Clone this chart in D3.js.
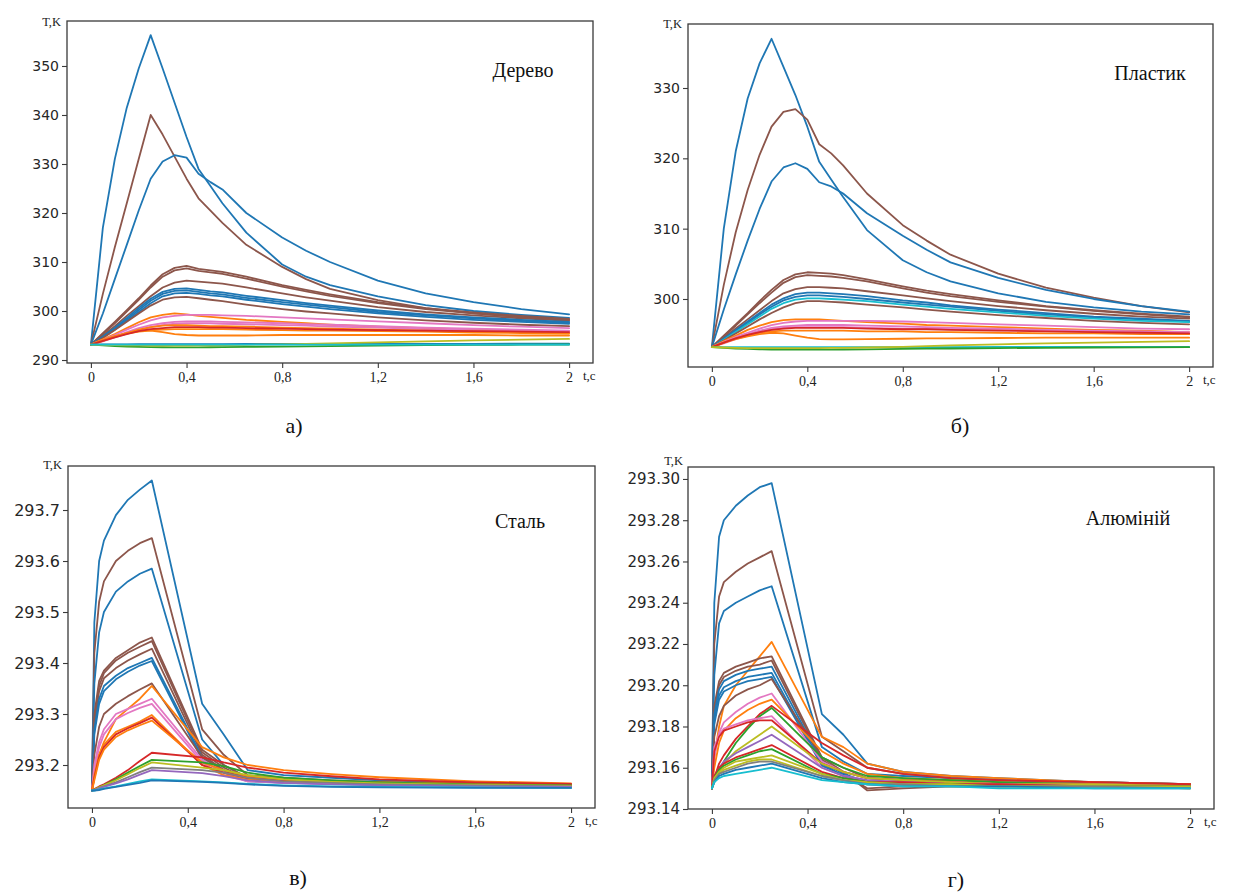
<!DOCTYPE html>
<html>
<head>
<meta charset="utf-8">
<script src="https://cdn.jsdelivr.net/npm/d3@7"></script>
<style>
html,body{margin:0;padding:0;background:#fff;}
svg{display:block;}
</style>
</head>
<body>
<svg id="chart" width="1234" height="893"></svg>
<script>
// ---------- DATA ----------
const xTicks = [0, 0.4, 0.8, 1.2, 1.6, 2];
const xTickLabels = ["0", "0,4", "0,8", "1,2", "1,6", "2"];

// time grids (s)
const tWP = [0, 0.05, 0.1, 0.15, 0.2, 0.25, 0.3, 0.35, 0.4, 0.45, 0.5, 0.55, 0.65, 0.8, 0.9, 1.0, 1.2, 1.4, 1.6, 1.8, 2.0];
const tSA = [0, 0.01, 0.03, 0.05, 0.1, 0.15, 0.2, 0.25, 0.46, 0.55, 0.65, 0.8, 1.0, 1.2, 1.6, 2.0];

// а) Дерево
const woodYTicks = [290, 300, 310, 320, 330, 340, 350];
const woodYLabels = ["290", "300", "310", "320", "330", "340", "350"];
const woodColors = ["b","br","b","br","br","br","b","b","b","br","o","pk","pk","pk","o","o","o","r","b","g","ol","c"];
const woodSeries = [
 [293.15,317,331,341.5,349.5,356.3,349.5,342.5,335.5,329,325.5,322,316,309.5,307,305.3,303,301.2,300,299.2,298.6],
 [293.15,303.5,313,322,331,340,336,331.5,327,323,320.5,318,313.5,309,306.5,304.5,302.2,300.6,299.5,298.7,298.2],
 [293.15,299.5,306.5,313.5,320.5,327,330.5,331.8,331.3,328,326.3,324.8,320,315,312.3,310,306.2,303.6,301.8,300.4,299.3],
 [293.15,295.5,297.8,300.2,302.6,305.2,307.5,308.8,309.2,308.6,308.3,308,307,305.3,304.3,303.4,301.8,300.6,299.7,299,298.4],
 [293.15,295.3,297.5,299.9,302.3,304.8,307,308.3,308.7,308.2,307.9,307.6,306.6,305,304,303.1,301.6,300.4,299.5,298.8,298.2],
 [293.15,295,296.9,299,301,303,304.8,305.8,306.2,306,305.8,305.6,304.8,303.6,302.8,302.1,300.8,299.8,299.1,298.5,298],
 [293.15,294.8,296.6,298.6,300.6,302.5,303.9,304.5,304.6,304.3,304,303.8,303.1,302.2,301.6,301.1,300.1,299.3,298.7,298.2,297.8],
 [293.15,294.7,296.4,298.3,300.2,302.1,303.5,304.1,304.2,303.9,303.6,303.4,302.7,301.8,301.3,300.8,299.8,299.1,298.5,298,297.6],
 [293.15,294.6,296.2,298,299.8,301.6,303,303.6,303.7,303.5,303.2,303,302.3,301.4,300.9,300.4,299.5,298.8,298.2,297.8,297.4],
 [293.15,294.5,296.1,297.8,299.5,301.1,302.3,302.8,302.9,302.6,302.3,302,301.3,300.4,299.9,299.5,298.7,298.1,297.6,297.2,296.9],
 [293.15,294.2,295.3,296.5,297.7,298.7,299.2,299.5,299.3,299,298.8,298.6,298.2,297.8,297.5,297.2,296.8,296.5,296.2,296,295.8],
 [293.15,294.1,295.1,296.2,297.2,298.1,298.7,299,299.2,299.2,299.2,299.1,299,298.7,298.5,298.3,297.9,297.5,297.1,296.8,296.5],
 [293.15,293.9,294.8,295.7,296.5,297.1,297.5,297.8,297.9,297.9,297.9,297.8,297.7,297.5,297.3,297.2,296.9,296.6,296.4,296.2,296],
 [293.15,293.8,294.6,295.4,296.1,296.7,297.1,297.4,297.5,297.5,297.5,297.4,297.3,297.1,297,296.8,296.6,296.3,296.1,295.9,295.8],
 [293.15,293.9,294.7,295.5,296.2,296.7,297,297.1,297.1,297,296.9,296.9,296.8,296.6,296.5,296.4,296.2,296,295.8,295.7,295.5],
 [293.15,294.1,294.9,295.5,295.9,296.1,296.2,296.3,296.3,296.3,296.3,296.3,296.2,296.1,296,296,295.9,295.8,295.6,295.5,295.4],
 [293.15,294,294.8,295.4,295.8,296,295.7,295.3,295.1,295,295,295,295,295.1,295.1,295.1,295.1,295.1,295.1,295,295],
 [293.15,293.9,294.6,295.3,295.9,296.3,296.5,296.7,296.7,296.7,296.6,296.6,296.5,296.4,296.3,296.2,296.1,296,295.9,295.8,295.7],
 [293.15,293.2,293.2,293.2,293.25,293.25,293.25,293.25,293.25,293.25,293.25,293.25,293.3,293.3,293.3,293.3,293.3,293.3,293.3,293.35,293.35],
 [293.15,293,292.85,292.75,292.68,292.63,292.6,292.58,292.58,292.58,292.6,292.62,292.67,292.75,292.8,292.85,292.95,293.02,293.08,293.13,293.17],
 [293.15,293.1,293.05,293,292.98,292.96,292.95,292.95,292.96,292.98,293,293.03,293.1,293.2,293.3,293.4,293.6,293.8,294,294.15,294.3],
 [293.15,293.15,293.15,293.15,293.15,293.15,293.15,293.15,293.15,293.15,293.15,293.15,293.15,293.15,293.15,293.15,293.15,293.15,293.15,293.15,293.15]
];

// б) Пластик
const plasticYTicks = [300, 310, 320, 330];
const plasticYLabels = ["300", "310", "320", "330"];
const plasticColors = ["b","br","b","br","br","br","b","b","c","br","o","pk","pk","pk","o","o","r","c","g","ol"];
const plasticSeries = [
 [293.15,310,321,328.5,333.5,337,333,329,324.5,319.5,317,314.5,309.8,305.5,303.8,302.5,300.8,299.6,298.8,298.2,297.8],
 [293.15,302,309.5,315.5,320.5,324.5,326.6,327,325.5,322,320.7,319,315,310.5,308.3,306.3,303.6,301.6,300.2,299,298.1],
 [293.15,298.5,303.5,308.3,312.8,316.7,318.7,319.3,318.5,316.6,316,315,312.2,309,307,305.2,303,301.3,300,299,298.2],
 [293.15,294.8,296.4,298,299.7,301.3,302.7,303.5,303.8,303.7,303.6,303.4,302.8,301.8,301.2,300.7,299.8,299,298.4,297.9,297.5],
 [293.15,294.7,296.2,297.8,299.4,300.9,302.3,303.1,303.4,303.3,303.2,303,302.5,301.5,300.9,300.4,299.6,298.9,298.3,297.8,297.4],
 [293.15,294.5,295.8,297.1,298.4,299.7,300.8,301.4,301.7,301.7,301.6,301.5,301.1,300.5,300.1,299.7,299,298.4,297.9,297.5,297.2],
 [293.15,294.4,295.6,296.8,298,299.2,300.1,300.7,300.9,300.9,300.8,300.7,300.4,299.8,299.5,299.1,298.5,298,297.5,297.2,296.9],
 [293.15,294.3,295.5,296.6,297.8,298.9,299.8,300.3,300.5,300.5,300.4,300.3,300,299.5,299.2,298.9,298.3,297.8,297.4,297.1,296.8],
 [293.15,294.2,295.3,296.4,297.5,298.6,299.4,299.9,300.1,300.1,300,299.9,299.7,299.2,298.9,298.6,298.1,297.6,297.2,296.9,296.7],
 [293.15,294.1,295.1,296.1,297.1,298,298.8,299.4,299.7,299.7,299.6,299.5,299.2,298.8,298.5,298.2,297.7,297.3,296.9,296.6,296.4],
 [293.15,294,294.8,295.6,296.2,296.7,297,297.1,297.1,297.1,297,296.9,296.7,296.5,296.3,296.2,296,295.8,295.6,295.5,295.3],
 [293.15,293.9,294.6,295.2,295.8,296.3,296.6,296.8,296.9,296.9,296.9,296.9,296.9,296.8,296.7,296.6,296.4,296.2,296,295.8,295.7],
 [293.15,293.8,294.4,295,295.5,295.9,296.1,296.2,296.3,296.3,296.3,296.3,296.2,296.1,296,295.9,295.8,295.6,295.5,295.4,295.3],
 [293.15,293.7,294.3,294.8,295.3,295.7,295.9,296,296,296,296,296,295.9,295.8,295.8,295.7,295.6,295.5,295.4,295.3,295.2],
 [293.15,293.8,294.4,294.9,295.2,295.4,295.5,295.5,295.5,295.5,295.5,295.5,295.4,295.4,295.3,295.3,295.2,295.1,295.1,295,295],
 [293.15,293.8,294.3,294.7,295,295.2,295.1,294.8,294.5,294.3,294.25,294.25,294.3,294.35,294.4,294.4,294.45,294.5,294.5,294.5,294.5],
 [293.15,293.8,294.4,294.9,295.3,295.6,295.8,295.9,295.9,295.9,295.9,295.9,295.8,295.7,295.7,295.6,295.5,295.4,295.3,295.2,295.1],
 [293.15,293.15,293.15,293.15,293.15,293.15,293.15,293.15,293.15,293.15,293.15,293.15,293.15,293.15,293.15,293.17,293.18,293.19,293.2,293.2,293.2],
 [293.15,293.05,292.95,292.9,292.85,292.82,292.8,292.8,292.8,292.8,292.8,292.82,292.85,292.9,292.93,292.96,293.02,293.06,293.1,293.13,293.15],
 [293.15,293.1,293.05,293.02,293,293,293,293,293,293.02,293.04,293.06,293.1,293.2,293.3,293.4,293.55,293.7,293.8,293.9,294]
];

// в) Сталь
const steelYTicks = [293.2, 293.3, 293.4, 293.5, 293.6, 293.7];
const steelYLabels = ["293.2", "293.3", "293.4", "293.5", "293.6", "293.7"];
const steelColors = ["b","br","b","br","br","br","b","b","br","o","pk","pk","o","r","o","r","g","ol","gr","p","c","b"];
const steelSeries = [
 [293.15,293.48,293.6,293.64,293.69,293.72,293.74,293.758,293.32,293.26,293.19,293.18,293.175,293.17,293.165,293.162],
 [293.15,293.42,293.52,293.56,293.6,293.62,293.635,293.645,293.27,293.22,293.18,293.175,293.17,293.167,293.164,293.161],
 [293.15,293.36,293.46,293.5,293.54,293.56,293.575,293.585,293.25,293.2,293.175,293.17,293.168,293.165,293.162,293.16],
 [293.15,293.3,293.365,293.385,293.41,293.425,293.44,293.45,293.23,293.2,293.175,293.17,293.167,293.165,293.162,293.16],
 [293.15,293.29,293.355,293.38,293.405,293.42,293.432,293.443,293.225,293.195,293.172,293.168,293.166,293.164,293.162,293.16],
 [293.15,293.28,293.345,293.37,293.39,293.405,293.417,293.428,293.22,293.19,293.17,293.167,293.165,293.163,293.161,293.16],
 [293.15,293.27,293.33,293.355,293.375,293.39,293.4,293.41,293.215,293.19,293.17,293.166,293.164,293.162,293.16,293.159],
 [293.15,293.26,293.32,293.345,293.368,293.383,293.395,293.404,293.21,293.185,293.168,293.165,293.163,293.161,293.16,293.158],
 [293.15,293.22,293.275,293.3,293.32,293.335,293.348,293.36,293.215,293.19,293.17,293.166,293.164,293.162,293.16,293.159],
 [293.15,293.18,293.22,293.245,293.29,293.31,293.33,293.355,293.235,293.215,293.2,293.19,293.182,293.176,293.168,293.164],
 [293.15,293.2,293.245,293.27,293.3,293.31,293.32,293.33,293.21,293.185,293.17,293.166,293.164,293.162,293.16,293.159],
 [293.15,293.19,293.235,293.26,293.29,293.302,293.312,293.32,293.205,293.18,293.168,293.165,293.163,293.161,293.16,293.158],
 [293.15,293.18,293.22,293.24,293.265,293.275,293.285,293.298,293.2,293.18,293.172,293.168,293.166,293.164,293.162,293.16],
 [293.15,293.175,293.215,293.235,293.26,293.272,293.282,293.293,293.2,293.185,293.175,293.17,293.167,293.165,293.163,293.161],
 [293.15,293.17,293.21,293.23,293.255,293.268,293.278,293.287,293.205,293.19,293.178,293.172,293.168,293.166,293.163,293.161],
 [293.15,293.153,293.158,293.162,293.175,293.19,293.208,293.224,293.215,293.205,293.195,293.185,293.178,293.172,293.166,293.163],
 [293.15,293.152,293.156,293.16,293.172,293.185,293.198,293.21,293.205,293.198,293.185,293.175,293.17,293.166,293.162,293.16],
 [293.15,293.152,293.156,293.16,293.17,293.182,293.194,293.205,293.195,293.19,293.18,293.172,293.167,293.164,293.161,293.159],
 [293.15,293.151,293.155,293.158,293.166,293.176,293.186,293.195,293.19,293.185,293.175,293.168,293.165,293.162,293.16,293.158],
 [293.15,293.151,293.154,293.157,293.164,293.172,293.181,293.19,293.184,293.178,293.17,293.165,293.162,293.16,293.158,293.157],
 [293.15,293.15,293.152,293.154,293.158,293.163,293.168,293.172,293.168,293.166,293.163,293.16,293.158,293.157,293.156,293.155],
 [293.15,293.15,293.151,293.153,293.157,293.161,293.165,293.17,293.167,293.165,293.162,293.159,293.157,293.156,293.155,293.155]
];

// г) Алюміній
const alYTicks = [293.14, 293.16, 293.18, 293.20, 293.22, 293.24, 293.26, 293.28, 293.30];
const alYLabels = ["293.14", "293.16", "293.18", "293.20", "293.22", "293.24", "293.26", "293.28", "293.30"];
const alColors = ["b","br","b","o","br","br","b","b","b","br","pk","o","r","g","pk","r","ol","p","r","g","ol","ol","gr","b","c"];
const alSeries = [
 [293.15,293.24,293.272,293.28,293.287,293.292,293.296,293.298,293.186,293.176,293.162,293.158,293.156,293.155,293.153,293.152],
 [293.15,293.22,293.243,293.25,293.255,293.259,293.262,293.265,293.175,293.168,293.16,293.157,293.155,293.154,293.153,293.152],
 [293.15,293.205,293.23,293.236,293.24,293.243,293.246,293.248,293.17,293.163,293.157,293.156,293.155,293.154,293.153,293.152],
 [293.15,293.165,293.18,293.19,293.2,293.207,293.214,293.221,293.175,293.17,293.162,293.158,293.156,293.155,293.153,293.152],
 [293.15,293.19,293.202,293.206,293.209,293.211,293.213,293.214,293.165,293.158,293.149,293.15,293.151,293.151,293.152,293.152],
 [293.15,293.188,293.2,293.204,293.207,293.209,293.21,293.212,293.164,293.157,293.15,293.151,293.152,293.152,293.152,293.152],
 [293.15,293.186,293.198,293.202,293.205,293.207,293.208,293.209,293.163,293.157,293.153,293.153,293.153,293.153,293.152,293.152],
 [293.15,293.183,293.195,293.199,293.202,293.204,293.205,293.206,293.162,293.156,293.153,293.153,293.153,293.152,293.152,293.151],
 [293.15,293.181,293.193,293.197,293.2,293.202,293.203,293.204,293.161,293.156,293.153,293.152,293.152,293.152,293.152,293.151],
 [293.15,293.175,293.185,293.19,293.195,293.198,293.2,293.203,293.165,293.16,293.155,293.154,293.154,293.153,293.152,293.152],
 [293.15,293.165,293.177,293.182,293.187,293.191,293.194,293.196,293.163,293.158,293.155,293.154,293.153,293.153,293.152,293.151],
 [293.15,293.16,293.172,293.178,293.184,293.188,293.191,293.193,293.168,293.162,293.157,293.155,293.154,293.153,293.152,293.152],
 [293.15,293.155,293.162,293.166,293.174,293.18,293.186,293.19,293.172,293.166,293.16,293.157,293.155,293.154,293.153,293.152],
 [293.15,293.153,293.158,293.163,293.172,293.179,293.185,293.189,293.165,293.16,293.156,293.155,293.154,293.153,293.152,293.151],
 [293.15,293.17,293.176,293.179,293.181,293.183,293.184,293.185,293.16,293.156,293.154,293.153,293.153,293.152,293.152,293.151],
 [293.15,293.168,293.175,293.178,293.18,293.182,293.183,293.183,293.162,293.158,293.155,293.154,293.153,293.152,293.152,293.151],
 [293.15,293.154,293.159,293.162,293.168,293.172,293.176,293.18,293.162,293.158,293.155,293.154,293.153,293.152,293.152,293.151],
 [293.15,293.155,293.16,293.163,293.167,293.17,293.173,293.176,293.16,293.156,293.154,293.153,293.152,293.152,293.151,293.151],
 [293.15,293.156,293.16,293.162,293.165,293.167,293.169,293.171,293.158,293.155,293.153,293.153,293.152,293.152,293.151,293.151],
 [293.15,293.155,293.159,293.161,293.164,293.166,293.168,293.169,293.157,293.155,293.153,293.152,293.152,293.151,293.151,293.151],
 [293.15,293.155,293.158,293.16,293.163,293.164,293.165,293.166,293.157,293.154,293.153,293.152,293.152,293.151,293.151,293.151],
 [293.15,293.154,293.157,293.159,293.161,293.163,293.164,293.164,293.156,293.154,293.152,293.152,293.151,293.151,293.151,293.15],
 [293.15,293.154,293.157,293.158,293.16,293.162,293.163,293.163,293.156,293.154,293.152,293.152,293.151,293.151,293.151,293.15],
 [293.15,293.153,293.156,293.157,293.159,293.16,293.161,293.162,293.155,293.153,293.152,293.151,293.151,293.151,293.15,293.15],
 [293.15,293.153,293.155,293.156,293.157,293.158,293.159,293.16,293.154,293.153,293.152,293.151,293.151,293.15,293.15,293.15]
];

// ---------- DRAWING ----------
const palette = {b:"#1f77b4", o:"#ff7f0e", g:"#2ca02c", r:"#d62728", p:"#9467bd",
                 br:"#8c564b", pk:"#e377c2", gr:"#7f7f7f", ol:"#bcbd22", c:"#17becf"};

const svg = d3.select("#chart");

const panels = [
  {id:"a", left:67, right:593, top:21, bottom:363, yDomain:[289.39, 359.18],
   t:tWP, series:woodSeries, colors:woodColors, yTicks:woodYTicks, yLabels:woodYLabels, yFont:14,
   tkX:61, tkY:26,
   name:"Дерево", nameX:523, nameY:77, sub:"а)", subX:294, subY:433},
  {id:"b", left:688, right:1213, top:24, bottom:367, yDomain:[290.33, 339.1],
   t:tWP, series:plasticSeries, colors:plasticColors, yTicks:plasticYTicks, yLabels:plasticYLabels, yFont:14,
   tkX:682, tkY:28,
   name:"Пластик", nameX:1150, nameY:80, sub:"б)", subX:960, subY:433},
  {id:"c", left:68, right:595, top:466, bottom:808, yDomain:[293.1157, 293.7863],
   t:tSA, series:steelSeries, colors:steelColors, yTicks:steelYTicks, yLabels:steelYLabels, yFont:16,
   tkX:62, tkY:469,
   name:"Сталь", nameX:520, nameY:528, sub:"в)", subX:298, subY:885},
  {id:"d", left:688, right:1214, top:467, bottom:809, yDomain:[293.14, 293.3058],
   t:tSA, series:alSeries, colors:alColors, yTicks:alYTicks, yLabels:alYLabels, yFont:15,
   tkX:683, tkY:465,
   name:"Алюміній", nameX:1128, nameY:525, sub:"г)", subX:956, subY:887}
];

panels.forEach(cfg => {
  const x = d3.scaleLinear().domain([-0.1, 2.1]).range([cfg.left, cfg.right]);
  const y = d3.scaleLinear().domain(cfg.yDomain).range([cfg.bottom, cfg.top]);
  const g = svg.append("g");

  g.append("clipPath").attr("id", "clip-" + cfg.id)
    .append("rect").attr("x", cfg.left).attr("y", cfg.top)
    .attr("width", cfg.right - cfg.left).attr("height", cfg.bottom - cfg.top);

  const line = d3.line().x((d, i) => x(cfg.t[i])).y(d => y(d));
  g.append("g").attr("clip-path", "url(#clip-" + cfg.id + ")")
    .selectAll("path").data(cfg.series).join("path")
    .attr("d", line)
    .attr("fill", "none")
    .attr("stroke", (d, i) => palette[cfg.colors[i]])
    .attr("stroke-width", 1.8)
    .attr("stroke-linejoin", "round")
    .attr("stroke-linecap", "round");

  g.append("rect").attr("x", cfg.left).attr("y", cfg.top)
    .attr("width", cfg.right - cfg.left).attr("height", cfg.bottom - cfg.top)
    .attr("fill", "none").attr("stroke", "#3a3a3a").attr("stroke-width", 1.3);

  const yAxis = d3.axisLeft(y).tickValues(cfg.yTicks)
    .tickFormat((d, i) => cfg.yLabels[i]).tickSize(5).tickPadding(3);
  const ya = g.append("g").attr("transform", `translate(${cfg.left},0)`).call(yAxis);
  ya.select(".domain").remove();
  ya.selectAll("line").attr("stroke", "#3a3a3a").attr("stroke-width", 1.1);
  ya.selectAll("text").attr("font-family", "DejaVu Sans, sans-serif")
    .attr("font-size", cfg.yFont).attr("fill", "#262626");

  const xAxis = d3.axisBottom(x).tickValues(xTicks)
    .tickFormat((d, i) => xTickLabels[i]).tickSize(5).tickPadding(4);
  const xa = g.append("g").attr("transform", `translate(0,${cfg.bottom})`).call(xAxis);
  xa.select(".domain").remove();
  xa.selectAll("line").attr("stroke", "#3a3a3a").attr("stroke-width", 1.1);
  xa.selectAll("text").attr("font-family", "Liberation Serif, serif")
    .attr("font-size", 14).attr("fill", "#222");

  g.append("text").attr("x", cfg.tkX).attr("y", cfg.tkY)
    .attr("text-anchor", "end").attr("font-family", "Liberation Serif, serif")
    .attr("font-size", 12.5).attr("fill", "#222").text("T,K");

  g.append("text").attr("x", cfg.right - 10).attr("y", cfg.bottom + 17)
    .attr("font-family", "Liberation Serif, serif")
    .attr("font-size", 13).attr("fill", "#222").text("t,c");

  g.append("text").attr("x", cfg.nameX).attr("y", cfg.nameY)
    .attr("text-anchor", "middle").attr("font-family", "Liberation Serif, serif")
    .attr("font-size", 20).attr("fill", "#111").text(cfg.name);

  g.append("text").attr("x", cfg.subX).attr("y", cfg.subY)
    .attr("text-anchor", "middle").attr("font-family", "Liberation Serif, serif")
    .attr("font-size", 22).attr("fill", "#111").text(cfg.sub);
});
</script>
</body>
</html>
